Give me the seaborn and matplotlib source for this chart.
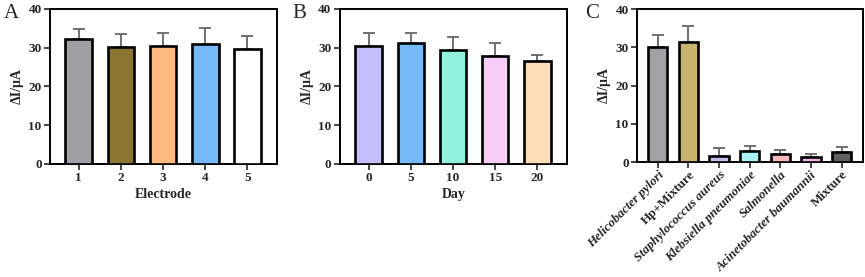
import numpy as np
import pandas as pd
import seaborn as sns
import matplotlib.pyplot as plt

# Panel A: electrode reproducibility
electrodes = ['1', '2', '3', '4', '5']
electrode_mean = [32.2, 30.1, 30.5, 30.9, 29.8]
electrode_err = [2.6, 3.4, 3.2, 4.1, 3.3]
electrode_colors = ['#a19fa5', '#8c7531', '#fdb97e', '#75b9f9', '#ffffff']

# Panel B: stability over days
days = ['0', '5', '10', '15', '20']
day_mean = [30.5, 31.1, 29.4, 27.8, 26.5]
day_err = [3.2, 2.7, 3.3, 3.3, 1.7]
day_colors = ['#c3bdfb', '#75b9f9', '#90f2dc', '#f8cdf6', '#fedcb8']

# Panel C: selectivity
species = ['Helicobacter pylori', 'Hp+Mixture', 'Staphylococcus aureus',
           'Klebsiella pneumoniae', 'Salmonella', 'Acinetobacter baumannii',
           'Mixture']
species_mean = [30.0, 31.3, 1.6, 2.9, 2.0, 1.2, 2.6]
species_err = [3.2, 4.2, 2.2, 1.2, 1.1, 0.8, 1.3]
species_colors = ['#a3a1a6', '#c8b46f', '#c3bbf3', '#a8f5f5', '#f8b7b9',
                  '#f0b3ea', '#5f5f5f']
italic_flags = [True, False, True, True, True, True, False]

sns.set_style('white')
plt.rcParams['font.family'] = ['Liberation Serif', 'DejaVu Serif']


def draw_panel(ax, cats, means, errs, colors, xlabel=None):
    df = pd.DataFrame({'cat': cats, 'val': means})
    sns.barplot(data=df, x='cat', y='val', hue='cat', palette=colors,
                legend=False, errorbar=None, width=0.63, saturation=1,
                edgecolor='black', linewidth=1.9, ax=ax, zorder=3)
    x = np.arange(len(cats))
    ax.errorbar(x, means, yerr=[np.zeros(len(errs)), errs], fmt='none',
                ecolor='#666666', elinewidth=1.3, capsize=4.5,
                capthick=1.3, zorder=2)
    ax.set_ylim(0, 40)
    ax.set_yticks([0, 10, 20, 30, 40])
    ax.set_xlim(-0.68, len(cats) - 0.3)
    ax.set_ylabel('ΔI/μA', fontsize=10, fontweight='bold', labelpad=3)
    if xlabel:
        ax.set_xlabel(xlabel, fontsize=10, fontweight='bold', labelpad=3)
    else:
        ax.set_xlabel('')
    for s in ax.spines.values():
        s.set_linewidth(1.4)
        s.set_color('black')
    ax.tick_params(axis='both', direction='out', length=4, width=1.2,
                   labelsize=9.5, pad=2, left=True, bottom=True)
    for lab in ax.get_yticklabels():
        lab.set_fontweight('bold')


fig = plt.figure(figsize=(8.65, 2.77), dpi=100)

ax_a = fig.add_axes([0.0578, 0.408, 0.2624, 0.5596])
draw_panel(ax_a, electrodes, electrode_mean, electrode_err, electrode_colors,
           'Electrode')
for lab in ax_a.get_xticklabels():
    lab.set_fontweight('bold')

ax_b = fig.add_axes([0.393, 0.408, 0.2624, 0.5596])
draw_panel(ax_b, days, day_mean, day_err, day_colors, 'Day')
for lab in ax_b.get_xticklabels():
    lab.set_fontweight('bold')

ax_c = fig.add_axes([0.7364, 0.415, 0.2613, 0.5523])
draw_panel(ax_c, species, species_mean, species_err, species_colors)
ax_c.set_xticks(range(len(species)))
ax_c.set_xticklabels(species, rotation=45, ha='right',
                     rotation_mode='anchor', fontsize=9.4)
ax_c.tick_params(axis='x', pad=1)
for lab, it in zip(ax_c.get_xticklabels(), italic_flags):
    lab.set_fontweight('bold')
    if it:
        lab.set_fontstyle('italic')

fig.text(0.004, 0.985, 'A', fontsize=15, va='top', ha='left')
fig.text(0.338, 0.985, 'B', fontsize=15, va='top', ha='left')
fig.text(0.676, 0.985, 'C', fontsize=15, va='top', ha='left')

fig.savefig('out.png', dpi=100)
